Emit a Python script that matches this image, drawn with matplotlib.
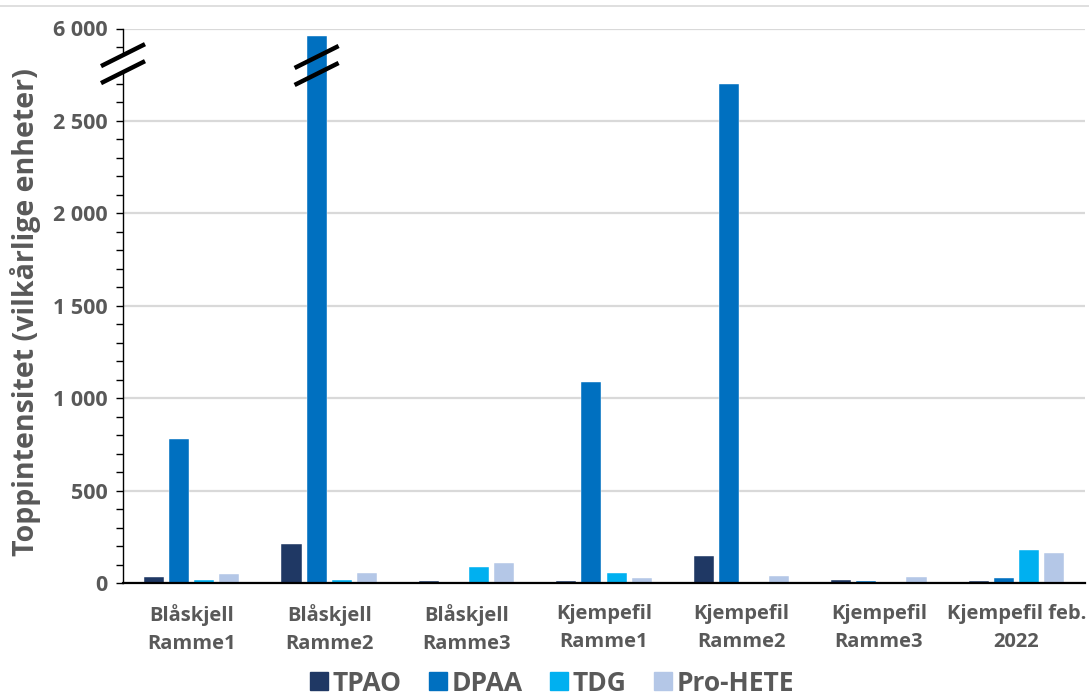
import numpy as np
import matplotlib
matplotlib.use("Agg")
import matplotlib.pyplot as plt
from matplotlib.lines import Line2D
from matplotlib.patches import Polygon
from matplotlib.ticker import FixedLocator, FixedFormatter

# --- data -----------------------------------------------------------------
categories = ["Blåskjell\nRamme1", "Blåskjell\nRamme2", "Blåskjell\nRamme3",
              "Kjempefil\nRamme1", "Kjempefil\nRamme2", "Kjempefil\nRamme3",
              "Kjempefil feb.\n2022"]
series_names = ["TPAO", "DPAA", "TDG", "Pro-HETE"]
tpao = [36, 210, 15, 15, 150, 20, 15]
dpaa = [780, 5350, 3, 1088, 2700, 15, 28]
tdg = [16, 20, 89, 56, 2, 9, 182]
pro_hete = [48, 56, 110, 28, 42, 36, 163]
series_values = [tpao, dpaa, tdg, pro_hete]
colors = ["#1F3864", "#0070C0", "#00B0F0", "#B4C7E7"]

ytick_values = [0, 500, 1000, 1500, 2000, 2500, 6000]
ytick_labels = ["0", "500", "1 000", "1 500", "2 000", "2 500", "6 000"]

# broken axis: linear up to 2800, compressed from 2800 to 6000
BREAK_LO, BREAK_HI, TOP_DISP = 2800.0, 6000.0, 3000.0
SQUEEZE = (TOP_DISP - BREAK_LO) / (BREAK_HI - BREAK_LO)


def fwd(v):
    v = np.asarray(v, dtype=float)
    return np.where(v <= BREAK_LO, v, BREAK_LO + (v - BREAK_LO) * SQUEEZE)


def inv(d):
    d = np.asarray(d, dtype=float)
    return np.where(d <= BREAK_LO, d, BREAK_LO + (d - BREAK_LO) / SQUEEZE)


# --- figure ---------------------------------------------------------------
W, H, DPI = 1089, 700, 100
plt.rcParams["font.family"] = ["Open Sans", "DejaVu Sans"]
plt.rcParams["font.weight"] = "bold"
TXT = "#595959"

fig = plt.figure(figsize=(W / DPI, H / DPI), dpi=DPI)
ax = fig.add_axes([123 / W, (H - 583.3) / H, 962 / W, (583.3 - 28.5) / H])

ax.set_yscale("function", functions=(fwd, inv))
ax.set_ylim(0, 6000)
ax.set_xlim(-0.5, len(categories) - 0.5)

x = np.arange(len(categories))
step, bw = 0.1825, 0.146
for i, (vals, col) in enumerate(zip(series_values, colors)):
    ax.bar(x + (i - 1.5) * step, vals, width=bw, color=col,
           edgecolor="white", linewidth=0.3, zorder=3)

# grid and spines
ax.yaxis.set_major_locator(FixedLocator(ytick_values))
ax.yaxis.set_major_formatter(FixedFormatter(ytick_labels))
minor_disp = np.arange(100, 3000, 100)
ax.yaxis.set_minor_locator(FixedLocator(inv(minor_disp)))
ax.grid(axis="y", which="major", color="#D9D9D9", linewidth=1.6, zorder=0)
ax.set_axisbelow(True)
for s in ("top", "right"):
    ax.spines[s].set_visible(False)
ax.spines["left"].set_color("black")
ax.spines["left"].set_linewidth(1.0)
ax.spines["bottom"].set_color("black")
ax.spines["bottom"].set_linewidth(1.6)
ax.spines["bottom"].set_zorder(4)

ax.tick_params(axis="y", which="both", direction="out", length=5, width=1,
               color="black", labelsize=15.5, labelcolor=TXT, pad=6)
ax.tick_params(axis="x", length=0, labelsize=14.5, labelcolor=TXT, pad=15)
ax.set_xticks(x)
ax.set_xticklabels(categories, linespacing=1.5)
for lab in ax.get_xticklabels() + ax.get_yticklabels():
    lab.set_fontweight("bold")

ax.set_ylabel("Toppintensitet (vilkårlige enheter)", fontsize=20.5,
              fontweight="bold", color=TXT, labelpad=9)
ax.yaxis.label.set_y(0.488)

# legend with square markers
handles = [Line2D([], [], marker="s", linestyle="none", markersize=13,
                  markerfacecolor=c, markeredgecolor=c) for c in colors]
leg = fig.legend(handles, series_names, loc="lower center", ncol=4,
                 bbox_to_anchor=(0.505, -0.029), frameon=False,
                 fontsize=19, handletextpad=0.0, columnspacing=0.9,
                 handlelength=1.0)
for t in leg.get_texts():
    t.set_color(TXT)
    t.set_fontweight("bold")

# thin top border of the chart area
fig.add_artist(Line2D([0, 1], [1 - 6 / H, 1 - 6 / H], transform=fig.transFigure,
                      color="#D9D9D9", linewidth=1.2))


# break markers (drawn in inches around a data anchor)
def break_mark(xd, yd, cover_axis=False):
    px, py = ax.transData.transform((xd, yd))
    cx, cy = px / DPI, py / DPI
    dx, dy, gap = 0.22, 0.11, 0.17
    l1 = ([cx - dx, cx + dx], [cy + gap / 2 - dy, cy + gap / 2 + dy])
    l2 = ([cx - dx, cx + dx], [cy - gap / 2 - dy, cy - gap / 2 + dy])
    if cover_axis:
        poly = Polygon([(cx - dx, l1[1][0]), (cx + dx, l1[1][1]),
                        (cx + dx, l2[1][1]), (cx - dx, l2[1][0])],
                       closed=True, facecolor="white", edgecolor="none",
                       transform=fig.dpi_scale_trans, zorder=9)
        fig.add_artist(poly)
    for xs, ys in (l1, l2):
        fig.add_artist(Line2D(xs, ys, transform=fig.dpi_scale_trans,
                              color="black", linewidth=3.2,
                              solid_capstyle="butt", zorder=10))


y_break = float(inv(2810.0))
break_mark(-0.5, y_break, cover_axis=True)
break_mark(1 - 0.5 * step, float(inv(2800.0)))

fig.savefig("out.png", dpi=DPI)
